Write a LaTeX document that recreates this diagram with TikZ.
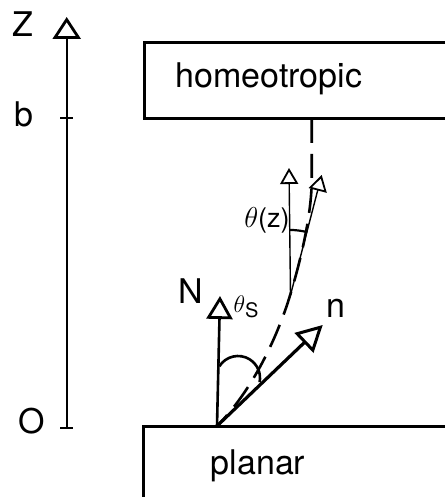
\documentclass[tikz,border=0pt]{standalone}
\usepackage{amsmath,fontspec}
\setmainfont{TeX Gyre Heros}
\usetikzlibrary{arrows.meta}

\begin{document}
\begin{tikzpicture}[x=.5pt,y=-.5pt,font=\fontsize{17}{20}\selectfont]
  \useasboundingbox (0,0) rectangle (444,497);
  \coordinate (O) at (217,426);
  \coordinate (Ntip) at (220,296);
  \coordinate (ntip) at (322.7,325);
  \coordinate (Zbot) at (66.7,428);
  \coordinate (Ztip) at (66.7,17);
  \coordinate (V) at (290.5,295);
  \coordinate (Vtip) at (289,168);
  \coordinate (Ttip) at (321.7,175);
  \coordinate (Htop) at (311.7,119);
  \coordinate (Hmid) at (311.7,180);
  \coordinate (Pbend) at (287,305);
  \draw[line width=1.5pt] (446,42.7) -- (144,42.7) -- (144,119) -- (446,119);
  \draw[line width=1.5pt] (446,426) -- (143,426) -- (143,499);
  \node[anchor=base] (homeo) at (269,88) {homeotropic};
  \node[anchor=base] (planar) at (258,474) {planar};
  \draw[line width=1.1pt,-{Triangle[open,length=11pt,width=14pt,line width=1.4pt]}]
    (Zbot) -- (Ztip);
  \draw[line width=1.1pt] (60,118) -- (73,118);
  \draw[line width=1.1pt] (60,428) -- (73,428);
  \node[anchor=base] (zlab) at (22.5,37) {Z};
  \node[anchor=base] (blab) at (24,127) {b};
  \node[anchor=base] (olab) at (31.5,433) {O};
  \draw[line width=1.3pt,dash pattern=on 12pt off 5.5pt]
    (Htop) -- (Hmid) .. controls (311.7,215) and (300,265) .. (Pbend)
    .. controls (270,355) and (245,398) .. (O);
  \draw[line width=1.3pt,-{Triangle[open,length=11.5pt,width=13pt,line width=1.4pt]}]
    (O) -- (Ntip);
  \draw[line width=1.6pt,-{Triangle[open,length=13pt,width=13.5pt,line width=1.5pt]}]
    (O) -- (ntip);
  \draw[line width=.7pt,-{Triangle[open,length=8pt,width=9pt,line width=.9pt]}]
    (V) -- (Vtip);
  \draw[line width=.7pt,-{Triangle[open,length=8pt,width=9.2pt,line width=.9pt]}]
    (V) -- (Ttip);
  \draw[line width=1.1pt] (V) ++(-91:65) arc[start angle=-91,end angle=-75,radius=65];
  \draw[line width=1.3pt] (238,378) ++(-148:22) arc[start angle=-148,end angle=11,radius=22];
  \node[anchor=base] (Nlab) at (191,303) {N};
  \node[anchor=base] (nlab) at (336,317) {n};
  \node[font=\fontsize{11.5}{12}\selectfont,inner sep=0pt] (thetaS) at (246,307)
    {$\theta$\raisebox{-.45ex}{\fontsize{10}{12}\selectfont S}};
  \node[font=\fontsize{13.5}{14}\selectfont,inner sep=0pt] (thetaz) at (267,220)
    {$\theta$(z)};
\end{tikzpicture}
\end{document}
